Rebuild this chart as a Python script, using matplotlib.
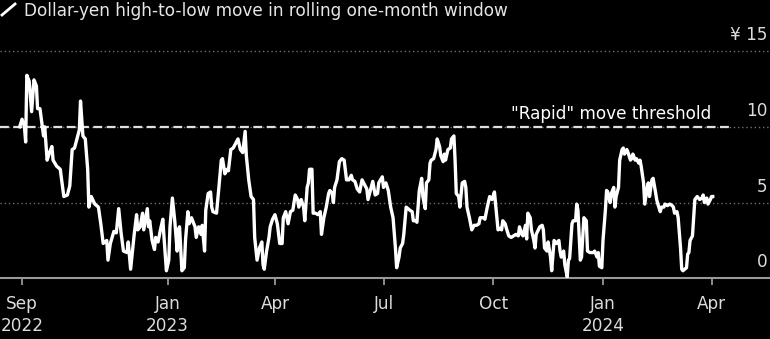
import matplotlib
matplotlib.use("Agg")
import matplotlib.pyplot as plt
import matplotlib.dates as mdates
from matplotlib.lines import Line2D
import pandas as pd

# days counted from 1 Sep 2022, values in yen
start = pd.Timestamp("2022-09-01")
day_offsets = [
    -2, 0, 2, 3, 4, 6, 8, 10, 12, 13,
    15, 18, 19, 21, 23, 25, 26, 29, 32, 35,
    38, 40, 42, 44, 46, 48, 49, 51, 53, 55,
    56, 58, 61, 64, 66, 68, 71, 72, 74, 77,
    79, 81, 83, 85, 88, 89, 91, 94, 96, 97,
    99, 101, 102, 105, 106, 107, 109, 111, 112, 114,
    116, 118, 119, 121, 123, 124, 126, 128, 130, 131,
    132, 134, 136, 137, 139, 140, 142, 144, 145, 146,
    148, 150, 151, 153, 154, 156, 158, 159, 160, 163,
    165, 167, 168, 170, 172, 173, 175, 177, 179, 181,
    183, 185, 187, 188, 190, 192, 194, 195, 197, 199,
    201, 202, 203, 205, 207, 208, 210, 212, 214, 216,
    218, 219, 221, 223, 225, 227, 229, 231, 232, 234,
    236, 237, 239, 240, 241, 243, 244, 246, 248, 250,
    251, 253, 255, 257, 258, 260, 261, 262, 264, 266,
    268, 270, 272, 274, 276, 277, 279, 281, 283, 285,
    287, 289, 290, 292, 294, 296, 298, 299, 302, 303,
    305, 307, 309, 311, 313, 314, 316, 317, 319, 320,
    322, 325, 327, 328, 330, 331, 333, 335, 336, 338,
    339, 341, 342, 343, 345, 347, 348, 350, 351, 353,
    354, 355, 357, 359, 360, 362, 363, 364, 366, 367,
    369, 371, 372, 373, 375, 377, 379, 381, 383, 384,
    387, 388, 390, 392, 394, 396, 398, 399, 401, 402,
    403, 405, 406, 408, 410, 412, 414, 416, 417, 419,
    420, 422, 423, 424, 426, 427, 429, 430, 431, 434,
    436, 437, 438, 440, 441, 443, 444, 446, 448, 450,
    451, 452, 454, 455, 457, 458, 459, 461, 462, 464,
    465, 466, 468, 469, 471, 473, 474, 476, 478, 479,
    480, 482, 483, 484, 486, 487, 489, 490, 491, 493,
    494, 496, 497, 498, 500, 501, 503, 504, 505, 507,
    508, 510, 511, 512, 514, 515, 517, 518, 519, 521,
    522, 524, 525, 526, 528, 529, 531, 532, 533, 535,
    536, 538, 539, 541, 543, 545, 546, 547, 549, 550,
    552, 553, 554, 557, 558, 559, 560, 562, 563, 564,
    566, 568, 570, 571, 572, 574, 575, 577, 578, 579,
]
yen_move = [
    10.0, 10.5, 10.0, 9.0, 13.4, 13.0, 11.0, 13.1, 12.7, 11.2,
    11.2, 9.4, 10.0, 7.8, 8.3, 8.7, 7.8, 7.4, 7.2, 5.4,
    5.5, 6.1, 8.5, 8.6, 9.2, 9.8, 11.7, 9.4, 9.2, 7.2,
    4.7, 5.4, 4.9, 4.7, 3.6, 2.3, 2.5, 1.2, 2.3, 3.1,
    3.0, 4.6, 3.0, 1.8, 1.7, 2.4, 0.6, 2.9, 4.2, 3.2,
    3.4, 4.3, 3.2, 4.6, 3.4, 3.8, 2.5, 1.9, 2.7, 2.4,
    3.2, 3.9, 2.7, 0.5, 1.2, 3.4, 5.3, 3.8, 1.8, 3.2,
    3.4, 0.5, 0.7, 2.5, 4.4, 3.6, 4.0, 3.6, 3.4, 2.7,
    3.4, 2.9, 3.5, 1.8, 4.5, 5.6, 5.7, 4.7, 4.4, 4.3,
    6.0, 7.8, 7.9, 6.9, 7.2, 7.1, 8.5, 8.6, 8.9, 9.2,
    8.5, 8.3, 9.7, 8.1, 6.5, 5.4, 5.2, 2.7, 1.2, 2.0,
    2.4, 0.9, 0.6, 1.8, 2.7, 3.4, 3.9, 4.2, 3.6, 2.3,
    2.3, 4.0, 4.4, 3.6, 4.4, 4.5, 5.5, 5.2, 4.7, 5.2,
    4.7, 3.8, 6.0, 6.3, 7.2, 7.2, 4.3, 4.3, 4.2, 4.4,
    2.9, 4.0, 4.7, 5.6, 5.8, 5.6, 5.0, 6.0, 6.5, 7.7,
    7.9, 7.8, 6.5, 6.5, 6.8, 6.5, 6.4, 5.9, 5.7, 6.5,
    6.2, 5.9, 5.2, 5.8, 6.4, 5.5, 5.6, 6.3, 6.7, 6.0,
    6.3, 5.8, 4.7, 4.0, 2.0, 0.7, 1.4, 2.0, 2.3, 2.9,
    4.7, 4.5, 4.4, 3.8, 3.8, 3.7, 5.8, 6.6, 5.4, 4.6,
    6.3, 6.5, 7.6, 7.8, 7.9, 8.5, 9.2, 8.7, 8.1, 7.7,
    8.2, 7.8, 8.5, 8.6, 9.2, 9.4, 7.8, 5.6, 5.4, 4.7,
    6.3, 6.4, 6.0, 4.7, 4.0, 3.2, 3.5, 3.5, 3.6, 4.0,
    4.0, 3.9, 4.7, 5.4, 5.2, 5.7, 4.0, 3.2, 3.3, 3.2,
    3.8, 3.6, 3.3, 2.8, 2.7, 2.8, 2.9, 2.8, 3.4, 2.9,
    2.8, 3.5, 2.6, 4.3, 4.0, 3.2, 2.5, 2.0, 2.9, 3.4,
    3.5, 3.2, 2.0, 1.8, 2.4, 1.4, 0.5, 2.5, 2.3, 2.5,
    1.8, 1.4, 1.8, 0.9, 0.1, 1.2, 1.3, 3.6, 3.8, 3.8,
    4.9, 4.5, 1.2, 1.4, 4.0, 3.8, 1.8, 1.7, 1.7, 1.7,
    1.8, 1.4, 1.7, 0.8, 0.7, 2.5, 4.5, 5.8, 5.7, 5.0,
    5.6, 6.0, 4.7, 5.4, 6.0, 7.8, 8.5, 8.6, 8.2, 8.5,
    8.3, 7.8, 7.9, 8.2, 7.8, 7.9, 7.6, 7.8, 7.4, 6.3,
    4.9, 6.0, 6.3, 5.4, 6.5, 6.6, 5.7, 5.2, 4.9, 4.4,
    4.7, 4.7, 4.9, 4.8, 4.9, 4.8, 4.7, 4.3, 4.4, 4.0,
    2.0, 0.6, 0.5, 0.7, 1.6, 1.7, 2.5, 2.8, 4.0, 5.2,
    5.4, 5.2, 5.3, 5.5, 5.0, 5.3, 4.9, 5.2, 5.4, 5.4,
]

threshold = 10
threshold_end = "2024-04-18"
threshold_text = '"Rapid" move threshold'
title = "Dollar-yen high-to-low move in rolling one-month window"

tick_dates = ["2022-09-01", "2023-01-01", "2023-04-01", "2023-07-01",
              "2023-10-01", "2024-01-01", "2024-04-01"]
tick_labels = ["Sep\n2022", "Jan\n2023", "Apr", "Jul", "Oct", "Jan\n2024", "Apr"]
y_ticks = [0, 5, 10, 15]
y_labels = ["0", "5", "10", "¥ 15"]

dates = start + pd.to_timedelta(day_offsets, unit="D")

fig = plt.figure(figsize=(7.7, 3.39), dpi=100, facecolor="black")
ax = fig.add_axes([0, 0.179, 1, 0.715])
ax.set_facecolor("black")
ax.set_xlim(pd.Timestamp("2022-08-13 12:00"), pd.Timestamp("2024-05-20"))
ax.set_ylim(0, 16)

for v in y_ticks[1:]:
    ax.axhline(v, color="#707070", lw=1, ls=(0, (1, 2)), zorder=1)

x0 = ax.get_xlim()[0]
ax.hlines(threshold, x0, mdates.date2num(pd.Timestamp(threshold_end)),
          colors="#e0e0e0", lw=1.6, linestyles=(0, (4, 2)), zorder=2)
ax.text(pd.Timestamp("2024-04-01"), threshold + 0.5, threshold_text,
        ha="right", va="baseline", color="white", fontsize=12.2)

ax.plot(dates, yen_move, color="white", lw=2.4, solid_joinstyle="round", zorder=3)

# labels sit just above their gridlines at the right edge
for v, lab in zip(y_ticks, y_labels):
    ax.text(0.997, v + 0.72, lab, transform=ax.get_yaxis_transform(),
            ha="right", va="baseline", color="#dcdcdc", fontsize=12.2, clip_on=False)

ax.set_yticks([])
ax.set_xticks([pd.Timestamp(d) for d in tick_dates])
ax.set_xticklabels(tick_labels)
for lab in ax.get_xticklabels():
    lab.set_linespacing(1.3)
ax.tick_params(axis="x", length=5, width=1.4, color="#8c8c8c",
               labelcolor="#dcdcdc", labelsize=12.2, pad=7)

for side in ["top", "left", "right"]:
    ax.spines[side].set_visible(False)
ax.spines["bottom"].set_color("#999999")
ax.spines["bottom"].set_linewidth(1.5)

fig.text(23.5 / 770, 1 - 16 / 339, title, color="#e6e6e6", fontsize=12.2,
         ha="left", va="baseline")
fig.add_artist(Line2D([2 / 770, 15 / 770], [1 - 15 / 339, 1 - 4 / 339],
                      color="white", lw=2, transform=fig.transFigure))

fig.savefig("out.png", dpi=100, facecolor="black")
